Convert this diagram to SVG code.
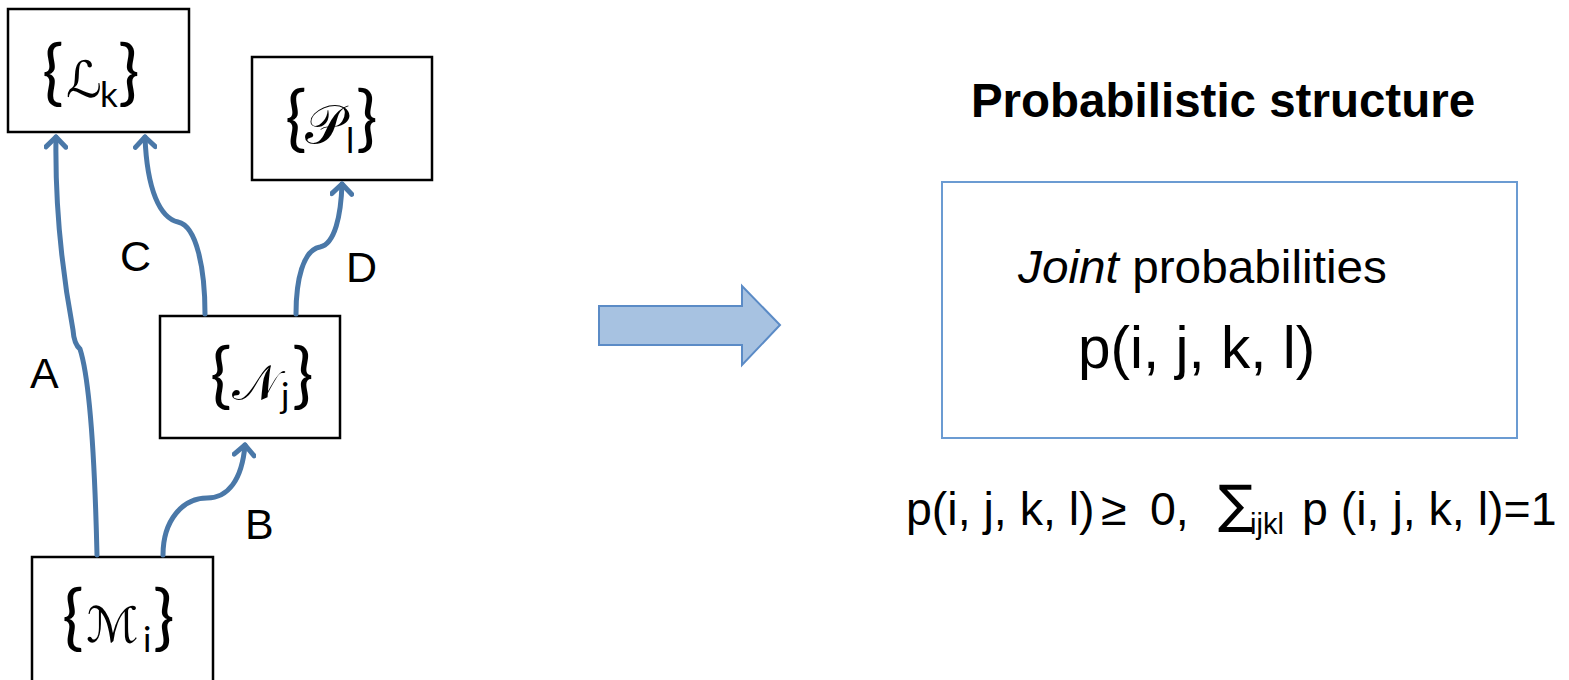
<svg xmlns="http://www.w3.org/2000/svg" width="1569" height="680" viewBox="0 0 1569 680">
<style>
  .box{fill:#fff;stroke:#000;stroke-width:2.5}
  .conn{fill:none;stroke:#4a78a8;stroke-width:5;stroke-linecap:round;stroke-linejoin:round}
  .lbl{font-family:"Liberation Sans",Arial,sans-serif;font-size:43px;fill:#000}
  .nd{font-family:"DejaVu Sans",Lato,sans-serif;fill:#000}
  .br{font-family:Lato,"DejaVu Sans",sans-serif;font-size:72px}
  .sc{font-family:"DejaVu Sans","Noto Sans",sans-serif}
  .sb{font-family:Lato,"DejaVu Sans",sans-serif;font-size:35px}
  .ar{font-family:"Liberation Sans",Arial,sans-serif;fill:#000}
</style>
<defs>
  <marker id="chev" viewBox="0 0 20 24" refX="13" refY="12" markerWidth="20" markerHeight="24" markerUnits="userSpaceOnUse" orient="auto">
    <path d="M3,2 L13,12 L3,22" fill="none" stroke="#4a78a8" stroke-width="5" stroke-linecap="round" stroke-linejoin="round"/>
  </marker>
</defs>

<g id="node-L">
  <rect class="box" x="8" y="9" width="181" height="123"/>
  <text class="nd" y="97"><tspan class="br" x="42">{</tspan><tspan class="sc" font-size="50" x="66">ℒ</tspan><tspan class="sb" x="100" y="107">k</tspan><tspan class="br" x="118" y="97">}</tspan></text>
</g>
<g id="node-P">
  <rect class="box" x="252" y="57" width="180" height="123"/>
  <text class="nd" y="143"><tspan class="br" x="285">{</tspan><tspan class="sc" font-size="54" x="305">𝒫</tspan><tspan class="sb" x="346" y="153">l</tspan><tspan class="br" x="356" y="143">}</tspan></text>
</g>
<g id="node-N">
  <rect class="box" x="160" y="316" width="180" height="122"/>
  <text class="nd" y="400"><tspan class="br" x="210">{</tspan><tspan class="sc" font-size="49" x="232">𝒩</tspan><tspan class="sb" x="281" y="408">j</tspan><tspan class="br" x="292" y="400">}</tspan></text>
</g>
<g id="node-M">
  <rect class="box" x="32" y="557" width="181" height="130"/>
  <text class="nd" y="642"><tspan class="br" x="62">{</tspan><tspan class="sc" font-size="49" x="86">ℳ</tspan><tspan class="sb" x="143" y="652">i</tspan><tspan class="br" x="153" y="642">}</tspan></text>
</g>

<g id="connectors">
  <path id="A" class="conn" marker-end="url(#chev)" d="M97,555 C95,470 90,380 80,349 Q74,344 73,330 C60,260 55,200 56,137"/>
  <path id="C" class="conn" marker-end="url(#chev)" d="M205,314 C205,270 197,226 178,222 C160,218 147,190 145,137"/>
  <path id="D" class="conn" marker-end="url(#chev)" d="M296,314 C296,280 303,250 320,247 C335,244 341,215 342,184"/>
  <path id="B" class="conn" marker-end="url(#chev)" d="M163,555 C163,520 183,498 207,498 C228,498 242,480 245,445"/>
  <text class="lbl" x="30" y="388">A</text>
  <text class="lbl" x="120" y="271">C</text>
  <text class="lbl" x="346" y="282">D</text>
  <text class="lbl" x="245" y="539">B</text>
</g>

<g id="big-arrow">
  <path d="M599,306 L742,306 L742,286 L780,325 L742,365 L742,345 L599,345 Z" fill="#a7c2e1" stroke="#5b8bc6" stroke-width="2"/>
</g>

<g id="title">
  <text class="ar" x="1223" y="117" font-size="47.5" font-weight="bold" text-anchor="middle">Probabilistic structure</text>
</g>

<g id="joint-box">
  <rect x="942" y="182" width="575" height="256" fill="#fff" stroke="#6b9bd2" stroke-width="2"/>
  <text class="ar" x="1018" y="283" font-size="47" textLength="369" lengthAdjust="spacingAndGlyphs"><tspan font-style="italic">Joint</tspan> probabilities</text>
  <text class="ar" x="1078" y="368" font-size="58.5">p(i, j, k, l)</text>
</g>

<g id="constraint">
  <text class="ar" y="525" font-size="46.5"><tspan x="906">p(i, j, k, l)</tspan><tspan x="1101">≥</tspan><tspan x="1150">0,</tspan><tspan x="1218" font-family="DejaVu Sans" font-size="52" y="522">∑</tspan><tspan font-size="29" x="1250" y="534">ijkl</tspan><tspan x="1302" y="525">p (i, j, k, l)=1</tspan></text>
</g>
</svg>
